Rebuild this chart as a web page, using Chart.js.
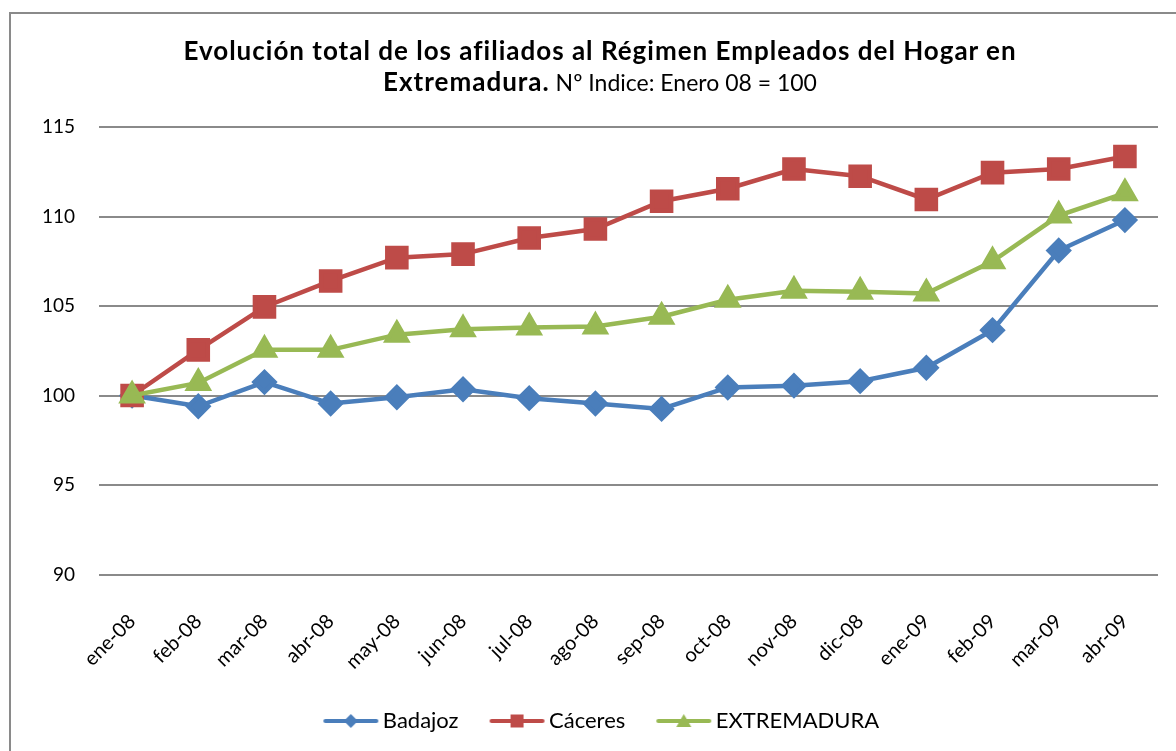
<!DOCTYPE html>
<html>
<head>
<meta charset="utf-8">
<script src="https://cdn.jsdelivr.net/npm/chart.js@4/dist/chart.umd.min.js"></script>
<style>
html, body { margin: 0; padding: 0; background: #fff; overflow: hidden; }
#wrap { position: relative; width: 1176px; height: 751px; }
#frame { position: absolute; left: 9px; top: 12px; width: 1200px; height: 800px; border: 2px solid #8a8a8a; }
#title { position: absolute; left: 12px; top: 35px; width: 1176px; text-align: center; font-family: Lato, sans-serif; font-size: 23px; line-height: 30px; color: #000; }
#title b { font-weight: 700; font-size: 26px; letter-spacing: 1px; }
#chart { position: absolute; left: 0; top: 0; }
</style>
</head>
<body>
<div id="wrap">
  <div id="frame"></div>
  <canvas id="chart" width="1176" height="751"></canvas>
  <div id="title"><b>Evolución total de los afiliados al Régimen Empleados del Hogar en</b><br><b>Extremadura.</b> Nº Indice: Enero 08 = 100</div>
</div>
<script>
const months = ["ene-08", "feb-08", "mar-08", "abr-08", "may-08", "jun-08", "jul-08", "ago-08",
                "sep-08", "oct-08", "nov-08", "dic-08", "ene-09", "feb-09", "mar-09", "abr-09"];
const badajoz = [100, 99.4, 100.75, 99.55, 99.9, 100.35, 99.85, 99.55, 99.25, 100.45, 100.55, 100.8, 101.55, 103.65, 108.1, 109.8];
const caceres = [100, 102.55, 104.95, 106.4, 107.7, 107.9, 108.8, 109.3, 110.85, 111.55, 112.65, 112.25, 110.95, 112.45, 112.65, 113.35];
const extremadura = [100, 100.7, 102.55, 102.55, 103.4, 103.7, 103.8, 103.85, 104.4, 105.35, 105.85, 105.8, 105.7, 107.5, 110.05, 111.3];
const yTicks = [90, 95, 100, 105, 110, 115];

const blue = "#4a7ebb", red = "#be4b48", green = "#98b954";
const fontName = "Lato, sans-serif";

// legend icon: short line with the marker in the middle
function legendIcon(color, shape) {
    var c = document.createElement("canvas");
    c.width = 57; c.height = 20;
    var ctx = c.getContext("2d");
    ctx.strokeStyle = color;
    ctx.fillStyle = color;
    ctx.lineWidth = 4;
    ctx.lineCap = "round";
    ctx.beginPath();
    ctx.moveTo(3, 10); ctx.lineTo(54, 10);
    ctx.stroke();
    ctx.beginPath();
    if (shape === "diamond") {
        ctx.moveTo(28.5, 3); ctx.lineTo(35.5, 10); ctx.lineTo(28.5, 17); ctx.lineTo(21.5, 10);
    } else if (shape === "square") {
        ctx.rect(22, 3.5, 13, 13);
    } else {
        ctx.moveTo(28.5, 3); ctx.lineTo(36, 16); ctx.lineTo(21, 16);
    }
    ctx.closePath();
    ctx.fill();
    return c;
}
const icons = [legendIcon(blue, "diamond"), legendIcon(red, "square"), legendIcon(green, "triangle")];

// move the legend sideways a little, it is centred on the page in the original
const legendShift = {
    id: "legendShift",
    afterLayout(chart) {
        chart.legend.left += 10;
        chart.legend.right += 10;
    }
};

new Chart("chart", {
    type: "line",
    data: {
        labels: months,
        datasets: [{
            label: "Badajoz",
            data: badajoz,
            borderColor: blue,
            backgroundColor: blue,
            borderWidth: 4.5,
            pointStyle: "rectRot",
            pointRadius: 10,
            order: 3
        }, {
            label: "Cáceres",
            data: caceres,
            borderColor: red,
            backgroundColor: red,
            borderWidth: 4.5,
            pointStyle: "rect",
            pointRadius: 13.5,
            order: 2
        }, {
            label: "EXTREMADURA",
            data: extremadura,
            borderColor: green,
            backgroundColor: green,
            borderWidth: 4.5,
            pointStyle: "triangle",
            pointRadius: 11.5,
            order: 1
        }]
    },
    plugins: [legendShift],
    options: {
        responsive: false,
        animation: false,
        lineTension: 0,
        layout: { padding: { top: 127, left: 30, right: 17, bottom: 9 } },
        plugins: {
            title: { display: false },
            tooltip: { enabled: false },
            legend: {
                position: "bottom",
                labels: {
                    usePointStyle: true,
                    pointStyleWidth: 42,
                    padding: 37.5,
                    color: "#000",
                    font: { family: fontName, size: 22 },
                    generateLabels: function(chart) {
                        return chart.data.datasets.map(function(ds, i) {
                            return { text: ds.label, pointStyle: icons[i], fillStyle: ds.borderColor,
                                     strokeStyle: ds.borderColor, lineWidth: 0, hidden: false,
                                     datasetIndex: i, fontColor: "#000" };
                        });
                    }
                }
            }
        },
        scales: {
            x: {
                offset: true,
                grid: { display: false },
                border: { display: false },
                ticks: { color: "#000", font: { family: fontName, size: 20 }, minRotation: 45, maxRotation: 45, padding: 27 },
                afterFit: function(scale) { scale.height = 98; }
            },
            y: {
                min: 90,
                max: 115,
                afterBuildTicks: function(scale) { scale.ticks = yTicks.map(v => ({ value: v })); },
                grid: { color: "#8a8a8a", lineWidth: 2, drawTicks: false },
                border: { display: false },
                ticks: { color: "#000", font: { family: fontName, size: 19 }, padding: 24 },
                afterFit: function(scale) { scale.width = 69; }
            }
        }
    }
});
</script>
</body>
</html>
